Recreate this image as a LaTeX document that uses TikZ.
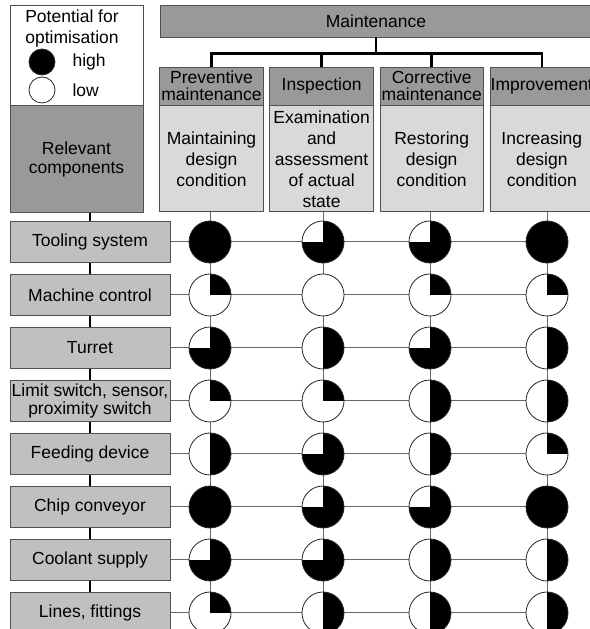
\documentclass[tikz,border=0pt]{standalone}
\usepackage{fontspec}
\setmainfont{Liberation Sans}
\usepackage{tikz}
\usetikzlibrary{positioning,backgrounds}
\definecolor{hdrgray} {RGB}{153,153,153}
\definecolor{bodygray}{RGB}{217,217,217}
\definecolor{rowgray} {RGB}{192,192,192}
\definecolor{edgegray}{RGB}{ 80, 80, 80}
\tikzset{
  txt/.style  ={inner sep=0pt,align=center,
                 font=\fontsize{17.5}{21}\selectfont},
  box/.style  ={txt,rectangle,draw=edgegray,line width=0.8pt},
  hdr/.style  ={box,fill=hdrgray,minimum width=103.5pt,minimum height=38pt,
                 font=\fontsize{17.5}{17.5}\selectfont},
  task/.style ={box,fill=bodygray,minimum width=103.5pt,minimum height=106pt},
  comp/.style ={box,fill=rowgray,minimum width=160pt,minimum height=41pt,
                 font=\fontsize{17.5}{17.5}\selectfont},
  relbox/.style={box,fill=hdrgray,minimum width=133pt,minimum height=107pt,
                 font=\fontsize{17.5}{19}\selectfont},
  pot/.style  ={circle,draw=black!85,line width=0.8pt,fill=white,
                 minimum size=42pt,inner sep=0pt},
  p0/.style   ={pot},
  p1/.style   ={pot,path picture={\fill[black] (path picture bounding box.center)
                 rectangle (path picture bounding box.north east);}},
  p2/.style   ={pot,path picture={\fill[black] (path picture bounding box.south)
                 rectangle (path picture bounding box.north east);}},
  p3/.style   ={pot,path picture={\fill[black] (path picture bounding box.south)
                 rectangle (path picture bounding box.north east);
                 \fill[black] (path picture bounding box.south west)
                 rectangle (path picture bounding box.center);}},
  p4/.style   ={pot,fill=black},
  tree/.style ={line width=2.6pt},
  grid/.style ={black!60,line width=1pt},
}

\begin{document}
\begin{tikzpicture}[x=1pt,y=1pt]
  \useasboundingbox (0,0) rectangle (589,629);
  \node[box,fill=white,minimum width=133pt,minimum height=100pt]
                             (legend) at (76.5,574) {};
  \node[txt]                 (ttl)    at (72,600.5) {Potential for\\optimisation};
  \node[p4,minimum size=26pt](hi)     at (42,567) {};
  \node[p0,minimum size=26pt](lo)     at (42,539) {};
  \node[txt,right=17pt of hi](hitxt)  {high};
  \node[txt,right=17pt of lo](lotxt)  {low};
  \node[relbox,below=0pt of legend]
                             (rel)    {Relevant\\components};

  \node[hdr,minimum width=432pt,minimum height=32pt]
                             (maint)  at (376,608) {Maintenance};
  \node[hdr]                 (h1)     at (211.5,543) {Preventive\\maintenance};
  \node[hdr,right=5.8pt of h1] (h2)   {Inspection};
  \node[hdr,right=5.8pt of h2] (h3)   {Corrective\\maintenance};
  \node[hdr,right=5.8pt of h3] (h4)   {Improvement};
  \node[task,below=0pt of h1]  (t1)   {Maintaining\\design\\condition};
  \node[task,below=0pt of h2]  (t2)   {Examination\\and\\assessment\\of actual\\state};
  \node[task,below=0pt of h3]  (t3)   {Restoring\\design\\condition};
  \node[task,below=0pt of h4]  (t4)   {Increasing\\design\\condition};
  \draw[tree](maint.south) -- ++(0,-16) -| (h1.north);
  \draw[tree](maint.south) -- ++(0,-16) -| (h2.north);
  \draw[tree](maint.south) -- ++(0,-16) -| (h3.north);
  \draw[tree](maint.south) -- ++(0,-16) -| (h4.north);

  \node[comp]                  (r1) at (90,387) {Tooling system};
  \node[comp,below=11.2pt of r1] (r2) {Machine control};
  \node[comp,below=11.2pt of r2] (r3) {Turret};
  \node[comp,below=11.2pt of r3] (r4) {Limit switch, sensor,\\proximity switch};
  \node[comp,below=11.2pt of r4] (r5) {Feeding device};
  \node[comp,below=11.2pt of r5] (r6) {Chip conveyor};
  \node[comp,below=11.2pt of r6] (r7) {Coolant supply};
  \node[comp,below=11.2pt of r7] (r8) {Lines, fittings};

  \coordinate (x1) at (210,0);
  \coordinate (x2) at (323,0);
  \coordinate (x3) at (430,0);
  \coordinate (x4) at (547,0);
  \foreach \row/\vals in {1/{4,3,3,4},2/{1,0,1,1},3/{3,2,3,2},4/{1,1,2,2},
                          5/{2,3,2,1},6/{4,3,3,4},7/{3,3,2,2},8/{1,2,2,2}}
    \foreach \v [count=\col] in \vals
      \node[p\v] (c\row\col) at (x\col |- r\row) {};

  \begin{scope}[on background layer]
    \draw[tree](r1 |- rel.south) -- (r8.south);
    \foreach \row in {1,...,8}
      \draw[grid](r\row.east) -- (c\row4.center);
    \foreach \col in {1,...,4}
      \draw[grid](x\col |- t\col.south) -- (c8\col.center);
  \end{scope}
\end{tikzpicture}
\end{document}
